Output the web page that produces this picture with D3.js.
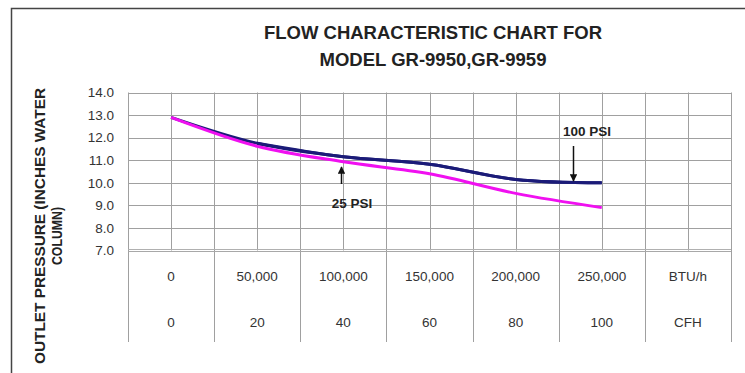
<!DOCTYPE html>
<html>
<head>
<meta charset="utf-8">
<script src="https://cdn.jsdelivr.net/npm/d3@7"></script>
<style>
  html, body { margin: 0; padding: 0; background: #fff; }
  svg { display: block; font-family: "Liberation Sans", Arial, sans-serif; }
</style>
</head>
<body>
<svg id="chart" width="745" height="373"></svg>
<script>
// ---- data ----
const titleLines = ["FLOW CHARACTERISTIC CHART FOR", "MODEL GR-9950,GR-9959"];
const yTitleLines = ["OUTLET PRESSURE (INCHES WATER", "COLUMN)"];
const btuValues = [0, 50000, 100000, 150000, 200000, 250000];
const psi100 = [12.9, 11.75, 11.15, 10.82, 10.15, 10.0];
const psi25 = [12.9, 11.62, 10.93, 10.4, 9.53, 8.9];
const btuLabels = ["0", "50,000", "100,000", "150,000", "200,000", "250,000", "BTU/h"];
const cfhLabels = ["0", "20", "40", "60", "80", "100", "CFH"];
const yTickValues = [7, 8, 9, 10, 11, 12, 13, 14];
const seriesNames = ["100 PSI", "25 PSI"];

// ---- layout ----
const svg = d3.select("#chart");
const L = 128, R = 731, T = 92.5, B = 250.5, tableBottom = 342;

const x = d3.scaleLinear().domain([-25000, 325000]).range([L, R]);
const y = d3.scaleLinear().domain([7, 14]).range([B, T]);
const col = d3.scaleBand().domain(d3.range(btuLabels.length)).range([L, R]).padding(0);

// frame
svg.append("path")
  .attr("d", `M11.5,373 L11.5,8.5 L745,8.5`)
  .attr("fill", "none").attr("stroke", "#444").attr("stroke-width", 1.5);

// title
svg.selectAll("text.title").data(titleLines).enter().append("text")
  .attr("class", "title")
  .attr("x", 433).attr("y", (d, i) => 39 + i * 27)
  .attr("text-anchor", "middle")
  .attr("font-size", 18.5).attr("font-weight", "bold").attr("fill", "#222")
  .text(d => d);

// horizontal gridlines
svg.append("g").selectAll("line").data(yTickValues.filter(v => v > 7)).enter().append("line")
  .attr("x1", L).attr("x2", R)
  .attr("y1", d => Math.round(y(d)) + 0.5).attr("y2", d => Math.round(y(d)) + 0.5)
  .attr("stroke", "#a0a0a0").attr("stroke-width", 1);

// vertical gridlines
const gridX = d3.range(-25000, 325001, 25000);
svg.append("g").selectAll("line").data(gridX).enter().append("line")
  .attr("x1", d => Math.round(x(d)) + 0.5).attr("x2", d => Math.round(x(d)) + 0.5)
  .attr("y1", T)
  .attr("y2", (d, i) => (i % 2 === 0 ? tableBottom : B))
  .attr("stroke", "#a0a0a0").attr("stroke-width", 1);

// bottom axis double line
svg.append("line").attr("x1", L).attr("x2", R).attr("y1", B - 1).attr("y2", B - 1)
  .attr("stroke", "#b0b0b0").attr("stroke-width", 1.2);
svg.append("line").attr("x1", L).attr("x2", R).attr("y1", B + 1).attr("y2", B + 1)
  .attr("stroke", "#a8a8a8").attr("stroke-width", 1.2);

// y axis labels
const yAxis = d3.axisLeft(y).tickValues(yTickValues).tickFormat(d3.format(".1f"))
  .tickSize(0).tickPadding(0);
const yg = svg.append("g").attr("transform", `translate(114,0)`).call(yAxis);
yg.select(".domain").remove();
yg.selectAll("text").attr("font-size", 13.5).attr("fill", "#333")
  .attr("font-family", "Liberation Sans, Arial, sans-serif");

// y title
svg.append("text")
  .attr("transform", "translate(45,226) rotate(-90)")
  .attr("text-anchor", "middle").attr("font-size", 14).attr("font-weight", "bold").attr("fill", "#222")
  .attr("textLength", 276).attr("lengthAdjust", "spacingAndGlyphs")
  .text(yTitleLines[0]);
svg.append("text")
  .attr("transform", "translate(62,236) rotate(-90)")
  .attr("text-anchor", "middle").attr("font-size", 14).attr("font-weight", "bold").attr("fill", "#222")
  .attr("textLength", 58).attr("lengthAdjust", "spacingAndGlyphs")
  .text(yTitleLines[1]);

// table labels
const tbl = svg.append("g");
tbl.selectAll("text.btu").data(btuLabels).enter().append("text")
  .attr("class", "btu")
  .attr("x", (d, i) => col(i) + col.bandwidth() / 2).attr("y", 281)
  .attr("text-anchor", "middle").attr("font-size", 13.5).attr("fill", "#333")
  .text(d => d);
tbl.selectAll("text.cfh").data(cfhLabels).enter().append("text")
  .attr("class", "cfh")
  .attr("x", (d, i) => col(i) + col.bandwidth() / 2).attr("y", 327)
  .attr("text-anchor", "middle").attr("font-size", 13.5).attr("fill", "#333")
  .text(d => d);

// lines
const line = d3.line().x(d => x(d[0])).y(d => y(d[1])).curve(d3.curveCatmullRom.alpha(0.5));
const s100 = btuValues.map((v, i) => [v, psi100[i]]);
const s25 = btuValues.map((v, i) => [v, psi25[i]]);
svg.append("path").attr("d", line(s100)).attr("fill", "none")
  .attr("stroke", "#1b1b78").attr("stroke-width", 3);
svg.append("path").attr("d", line(s25)).attr("fill", "none")
  .attr("stroke", "#f010f0").attr("stroke-width", 3);
// redraw navy over magenta after they separate
svg.append("path").attr("d", line(s100.slice(1))).attr("fill", "none")
  .attr("stroke", "#1b1b78").attr("stroke-width", 3);

// arrows
const defs = svg.append("defs");
defs.append("marker").attr("id", "ah").attr("viewBox", "0 0 10 10")
  .attr("refX", 9).attr("refY", 5).attr("markerWidth", 5).attr("markerHeight", 5)
  .attr("orient", "auto")
  .append("path").attr("d", "M0,0 L10,5 L0,10 z").attr("fill", "#111");

// 100 PSI annotation
svg.append("text").attr("x", 587).attr("y", 135.5)
  .attr("text-anchor", "middle").attr("font-size", 13.5).attr("font-weight", "bold").attr("fill", "#222")
  .text(seriesNames[0]);
svg.append("line").attr("x1", 573.5).attr("x2", 573.5).attr("y1", 146).attr("y2", 181)
  .attr("stroke", "#111").attr("stroke-width", 1.5).attr("marker-end", "url(#ah)");

// 25 PSI annotation
svg.append("text").attr("x", 352).attr("y", 208)
  .attr("text-anchor", "middle").attr("font-size", 13.5).attr("font-weight", "bold").attr("fill", "#222")
  .text(seriesNames[1]);
svg.append("line").attr("x1", 341.5).attr("x2", 341.5).attr("y1", 184).attr("y2", 167)
  .attr("stroke", "#111").attr("stroke-width", 1.5).attr("marker-end", "url(#ah)");
</script>
</body>
</html>
